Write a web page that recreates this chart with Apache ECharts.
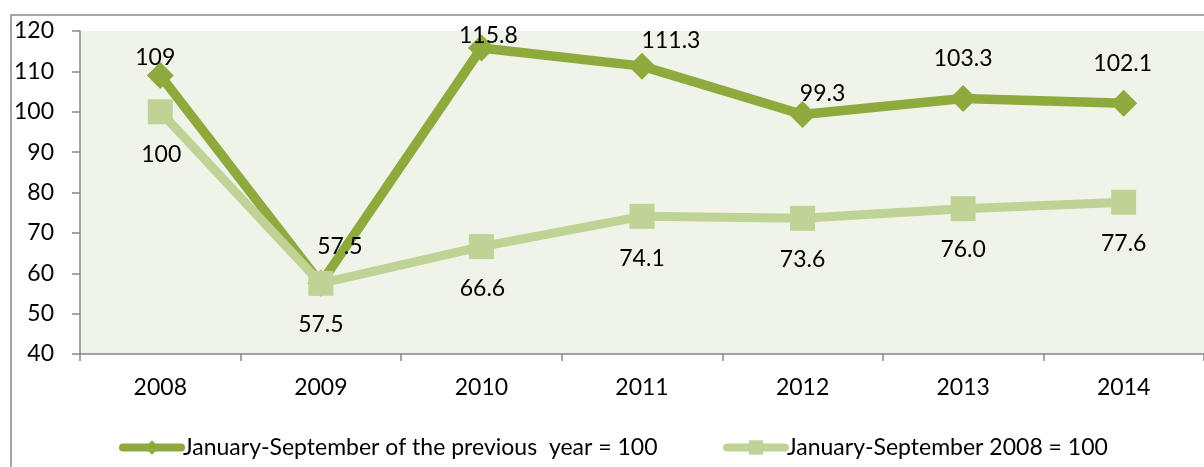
<!DOCTYPE html>
<html><head><meta charset="utf-8">
<script src="https://cdn.jsdelivr.net/npm/echarts@6/dist/echarts.min.js"></script>
<style>html,body{margin:0;padding:0;background:#fff}#c{width:1204px;height:467px}</style>
</head><body><div id="c"></div>
<script>
const years = ['2008','2009','2010','2011','2012','2013','2014'];
// values as printed on the chart
const prevYear = ['109', '57.5', '115.8', '111.3', '99.3', '103.3', '102.1'];
const base2008 = ['100', '57.5', '66.6', '74.1', '73.6', '76.0', '77.6'];
const seriesNames = ['January-September of the previous  year = 100', 'January-September 2008 = 100'];
const yTicks = [40, 50, 60, 70, 80, 90, 100, 110, 120];

// label placement styling (offsets from the point), kept apart from the data
const darkLabelOffsets = [[-5,-18],[19,-37],[7,-12],[29,-26],[20,-21],[0,-40],[-1,-40]];
const lightLabelOffsets = [[1,43],[0,41],[1,42],[0,42],[0,41],[0,41],[0,41]];

const FONT = 'Lato';
const DARK = '#8FAA3C';
const LIGHT = '#BFD396';

function build(vals, offs) {
  return vals.map((s, i) => ({
    value: Number(s),
    label: { offset: offs[i], formatter: () => s }
  }));
}

const legendCommon = {
  top: 431, itemWidth: 58, itemHeight: 18, itemGap: 0,
  textStyle: { color: '#000', fontSize: 23, fontFamily: FONT, padding: [0,0,0,-3] },
  lineStyle: { width: 8, cap: 'round' }
};

const chart = echarts.init(document.getElementById('c'), null, {renderer: 'canvas'});
chart.setOption({
  animation: false,
  textStyle: { fontFamily: FONT },
  graphic: [{
    type: 'rect', z: -10, silent: true,
    shape: { x: 11, y: 15, width: 1400, height: 600 },
    style: { fill: 'none', stroke: '#888888', lineWidth: 1.5 }
  }],
  grid: {
    left: 80, top: 31, width: 1134, height: 323,
    show: true, backgroundColor: '#EFF3E8', borderWidth: 0
  },
  xAxis: {
    type: 'category', data: years, boundaryGap: true,
    axisLine: { lineStyle: { color: '#888888', width: 1.5 } },
    axisTick: { show: true, length: 7, lineStyle: { color: '#888888', width: 1.5 } },
    axisLabel: { color: '#000', fontSize: 23, fontFamily: FONT, margin: 22 },
    splitLine: { show: false }
  },
  yAxis: {
    type: 'value', min: 40, max: 120, interval: 10,
    axisLine: { show: true, lineStyle: { color: '#888888', width: 1.5 } },
    axisTick: { show: true, length: 8, lineStyle: { color: '#888888', width: 1.5 } },
    axisLabel: { color: '#000', fontSize: 23, fontFamily: FONT, margin: 26,
      formatter: v => yTicks.includes(v) ? String(v) : '' },
    splitLine: { show: false }
  },
  legend: [
    Object.assign({ left: 114, data: [seriesNames[0]] }, legendCommon),
    Object.assign({ left: 718, data: [seriesNames[1]] }, legendCommon)
  ],
  series: [
    {
      name: seriesNames[0], type: 'line', data: build(prevYear, darkLabelOffsets),
      symbol: 'diamond', symbolSize: 27, z: 2,
      lineStyle: { color: DARK, width: 9.5 },
      itemStyle: { color: DARK },
      label: { show: true, position: 'inside', color: '#000', fontSize: 23, fontFamily: FONT }
    },
    {
      name: seriesNames[1], type: 'line', data: build(base2008, lightLabelOffsets),
      symbol: 'rect', symbolSize: 25, z: 3,
      lineStyle: { color: LIGHT, width: 9 },
      itemStyle: { color: LIGHT },
      label: { show: true, position: 'inside', color: '#000', fontSize: 23, fontFamily: FONT }
    }
  ]
});
</script></body></html>
